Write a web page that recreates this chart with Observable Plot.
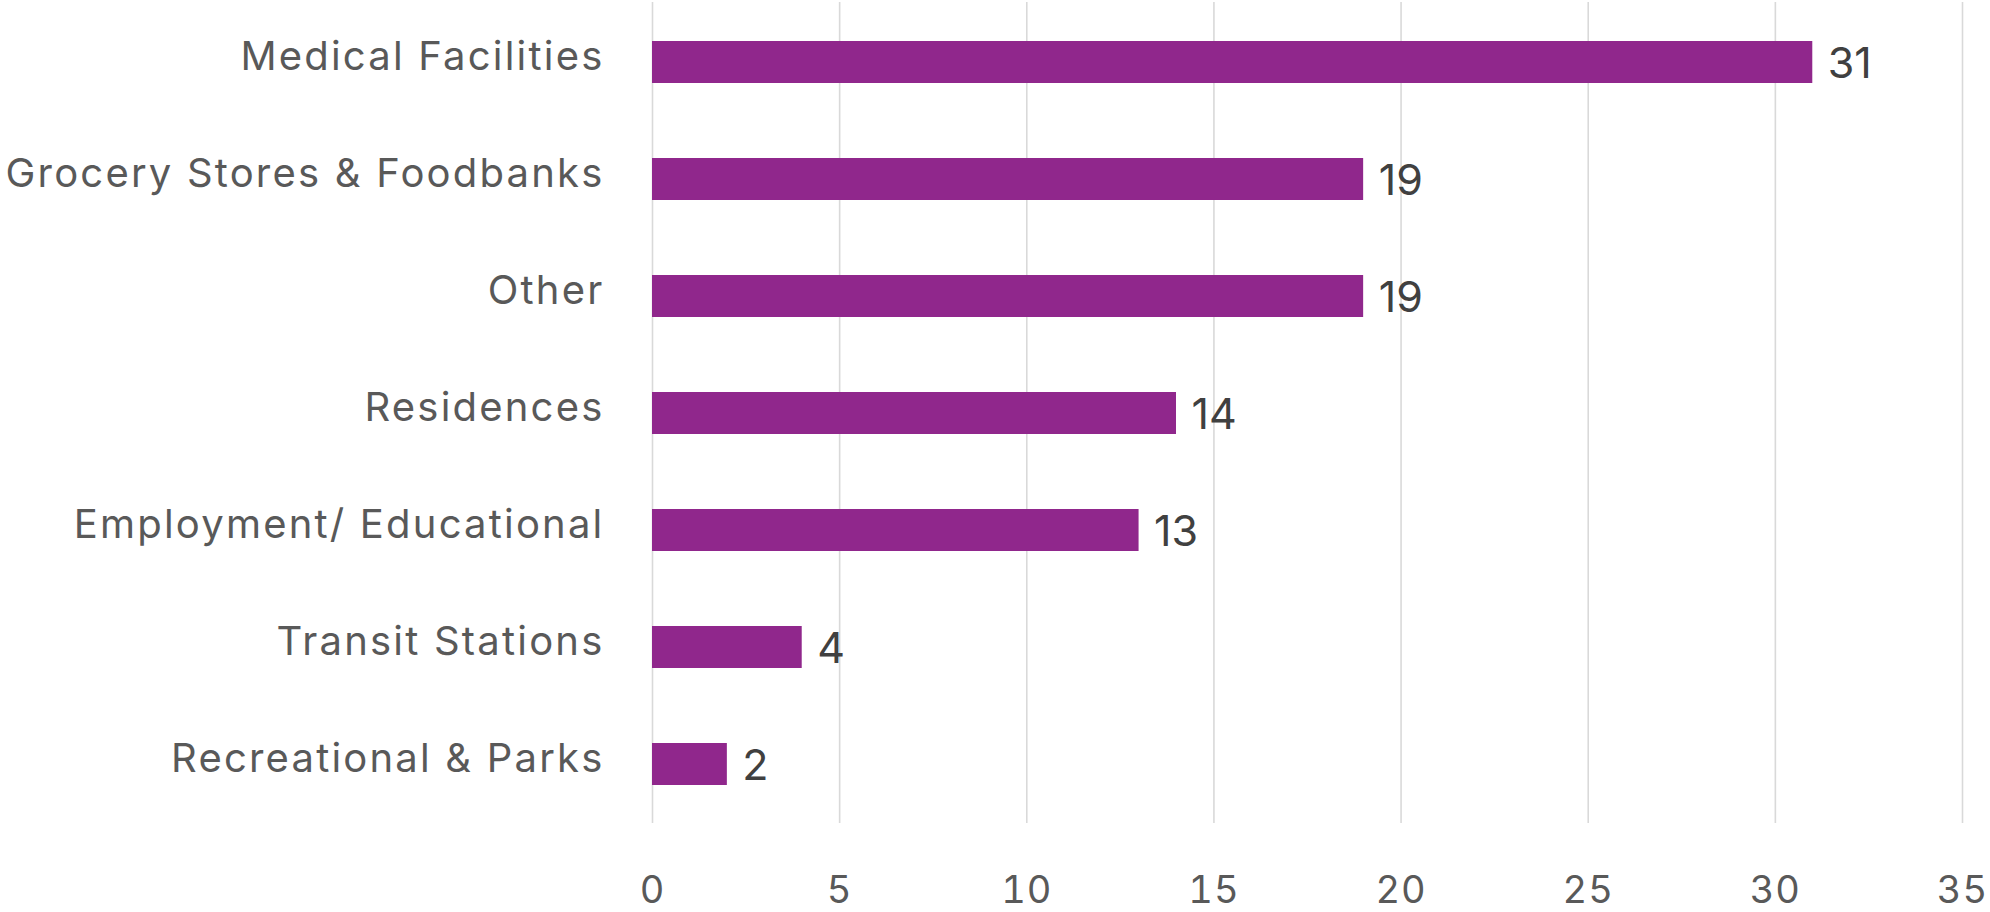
<!DOCTYPE html>
<html>
<head>
<meta charset="utf-8">
<script src="https://cdn.jsdelivr.net/npm/d3@7"></script>
<script src="https://cdn.jsdelivr.net/npm/@observablehq/plot@0.6"></script>
<style>
  html, body { margin: 0; padding: 0; background: #fff; }
  #chart svg { display: block; }
  #chart g[aria-label="y-axis tick label"] text { letter-spacing: 2.2px; }
  #chart g[aria-label="x-axis tick label"] text { letter-spacing: 1px; }
</style>
</head>
<body>
<div id="chart"></div>
<script>
const categories = ["Medical Facilities", "Grocery Stores & Foodbanks", "Other", "Residences", "Employment/ Educational", "Transit Stations", "Recreational & Parks"];
const counts = [31, 19, 19, 14, 13, 4, 2];
const xTicks = [0, 5, 10, 15, 20, 25, 30, 35];

const data = categories.map((c, i) => ({category: c, count: counts[i]}));

const chart = Plot.plot({
  width: 1990,
  height: 912,
  marginLeft: 652,
  marginRight: 28,
  marginTop: 2,
  marginBottom: 89,
  style: {fontFamily: "Inter, 'Open Sans', sans-serif", background: "#fff"},
  x: {domain: [0, 35], ticks: xTicks, label: null},
  y: {domain: categories, label: null, paddingInner: 0.643, paddingOuter: 0.3215},
  marks: [
    Plot.gridX(xTicks, {stroke: "#d9d9d9", strokeOpacity: 1, strokeWidth: 1.6}),
    Plot.barX(data, {x: "count", y: "category", fill: "#90278c"}),
    Plot.text(data, {x: "count", y: "category", text: d => String(d.count), textAnchor: "start", dx: 15, dy: 2, fontSize: 43, fill: "#404040"}),
    Plot.axisX({ticks: xTicks, tickSize: 0, tickPadding: 53, fontSize: 38, color: "#595959", label: null}),
    Plot.axisY({tickSize: 0, tickPadding: 48, fontSize: 40, color: "#595959", dy: -5, label: null})
  ]
});
document.getElementById("chart").appendChild(chart);
</script>
</body>
</html>
